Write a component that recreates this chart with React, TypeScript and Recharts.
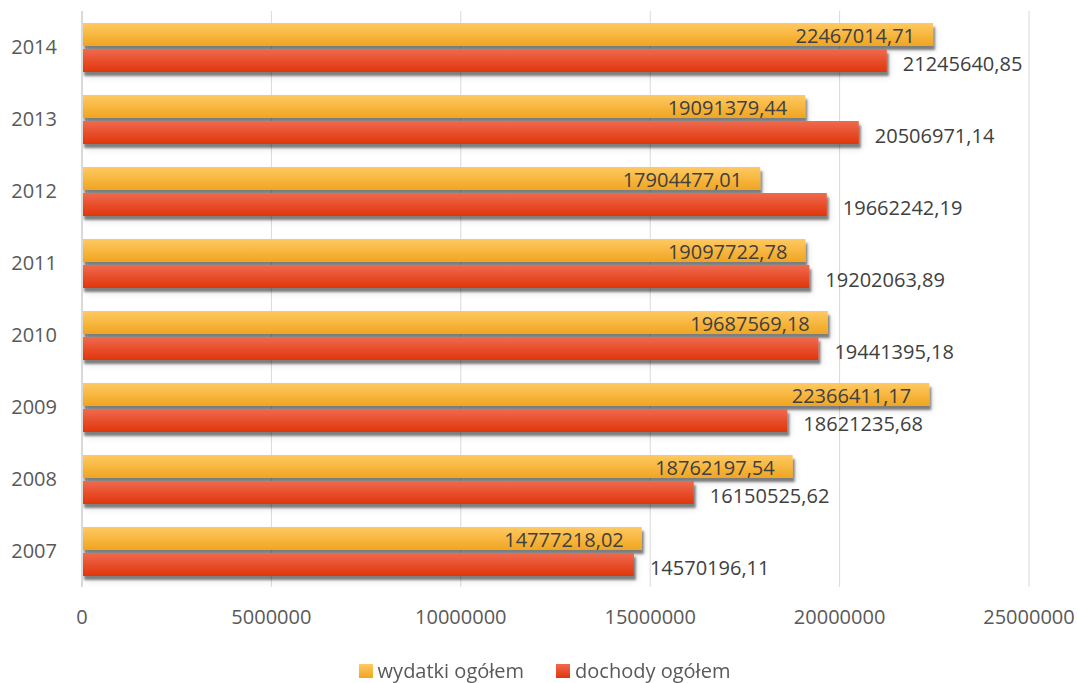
import { BarChart, Bar, XAxis, YAxis, CartesianGrid, LabelList } from "recharts";

const YEARS = ["2007", "2008", "2009", "2010", "2011", "2012", "2013", "2014"];
const WYDATKI = [
  14777218.02, 18762197.54, 22366411.17, 19687569.18, 19097722.78, 17904477.01, 19091379.44,
  22467014.71,
];
const DOCHODY = [
  14570196.11, 16150525.62, 18621235.68, 19441395.18, 19202063.89, 19662242.19, 20506971.14,
  21245640.85,
];
const X_TICKS = [0, 5000000, 10000000, 15000000, 20000000, 25000000];

const data = YEARS.map((year, i) => ({ year, wydatki: WYDATKI[i], dochody: DOCHODY[i] }));

const FONT = "'Open Sans', sans-serif";
const fmt = (v: number) => v.toFixed(2).replace(".", ",");

const shadowShape = (grad: string) => (props: any) => {
  const { x, y, width, height } = props;
  return (
    <rect x={x} y={y} width={width} height={height} fill={`url(#${grad})`} filter="url(#barShadow)" />
  );
};

const insideLabel = (props: any) => {
  const { x, y, width, height, value } = props;
  return (
    <text
      x={x + width - 18}
      y={y + height / 2 + 1}
      textAnchor="end"
      dominantBaseline="central"
      fontFamily={FONT}
      fontSize={20}
      fill="#404040"
    >
      {fmt(value)}
    </text>
  );
};

const outsideLabel = (props: any) => {
  const { x, y, width, height, value } = props;
  return (
    <text
      x={x + width + 16}
      y={y + height / 2 + 3}
      textAnchor="start"
      dominantBaseline="central"
      fontFamily={FONT}
      fontSize={20}
      fill="#404040"
    >
      {fmt(value)}
    </text>
  );
};

function LegendItem({ grad, label }: { grad: [string, string]; label: string }) {
  return (
    <span style={{ display: "inline-flex", alignItems: "center", margin: "0 16px" }}>
      <span
        style={{
          width: 14,
          height: 14,
          marginRight: 5,
          background: `linear-gradient(${grad[0]}, ${grad[1]})`,
        }}
      />
      <span>{label}</span>
    </span>
  );
}

export default function App() {
  return (
    <div style={{ position: "fixed", left: 0, top: 0, width: 1077, height: 683, background: "#fff" }}>
      <BarChart
        width={1077}
        height={683}
        data={data}
        layout="vertical"
        margin={{ top: 11, right: 48, bottom: 56, left: 0 }}
        barCategoryGap={12}
        barGap={3}
      >
        <defs>
          <linearGradient id="gYellow" x1="0" y1="0" x2="0" y2="1">
            <stop offset="0%" stopColor="#FFC962" />
            <stop offset="100%" stopColor="#F0A520" />
          </linearGradient>
          <linearGradient id="gRed" x1="0" y1="0" x2="0" y2="1">
            <stop offset="0%" stopColor="#F06A4E" />
            <stop offset="100%" stopColor="#E0360C" />
          </linearGradient>
          <filter id="barShadow" x="-5%" y="-40%" width="115%" height="190%">
            <feGaussianBlur in="SourceAlpha" stdDeviation="3" result="b1" />
            <feOffset in="b1" dx="3" dy="5" result="o1" />
            <feComponentTransfer in="o1" result="s1">
              <feFuncA type="linear" slope="0.12" />
            </feComponentTransfer>
            <feOffset in="SourceAlpha" dx="2" dy="4" result="o2" />
            <feGaussianBlur in="o2" stdDeviation="0.8" result="b2" />
            <feComponentTransfer in="b2" result="s2">
              <feFuncA type="linear" slope="0.45" />
            </feComponentTransfer>
            <feMerge>
              <feMergeNode in="s1" />
              <feMergeNode in="s2" />
              <feMergeNode in="SourceGraphic" />
            </feMerge>
          </filter>
        </defs>
        <CartesianGrid horizontal={false} stroke="#d9d9d9" />
        <XAxis
          type="number"
          domain={[0, 25000000]}
          ticks={X_TICKS}
          interval={0}
          axisLine={false}
          tickLine={false}
          tickSize={0}
          tickMargin={23}
          height={40}
          tick={{ fontSize: 20, fill: "#595959", fontFamily: FONT }}
        />
        <YAxis
          type="category"
          dataKey="year"
          reversed
          width={82}
          axisLine={{ stroke: "#d9d9d9", strokeWidth: 2 }}
          tickLine={false}
          tickSize={0}
          tickMargin={25}
          tick={{ fontSize: 20, fill: "#595959", fontFamily: FONT }}
        />
        <Bar dataKey="wydatki" shape={shadowShape("gYellow")} isAnimationActive={false}>
          <LabelList dataKey="wydatki" content={insideLabel} />
        </Bar>
        <Bar dataKey="dochody" shape={shadowShape("gRed")} isAnimationActive={false}>
          <LabelList dataKey="dochody" content={outsideLabel} />
        </Bar>
      </BarChart>
      <div
        style={{
          position: "absolute",
          left: 0,
          top: 658,
          width: 1077,
          paddingLeft: 12,
          boxSizing: "border-box",
          display: "flex",
          justifyContent: "center",
          fontFamily: FONT,
          fontSize: 20,
          color: "#595959",
          lineHeight: "26px",
        }}
      >
        <LegendItem grad={["#FFC962", "#F0A520"]} label="wydatki ogółem" />
        <LegendItem grad={["#F06A4E", "#E0360C"]} label="dochody ogółem" />
      </div>
    </div>
  );
}
